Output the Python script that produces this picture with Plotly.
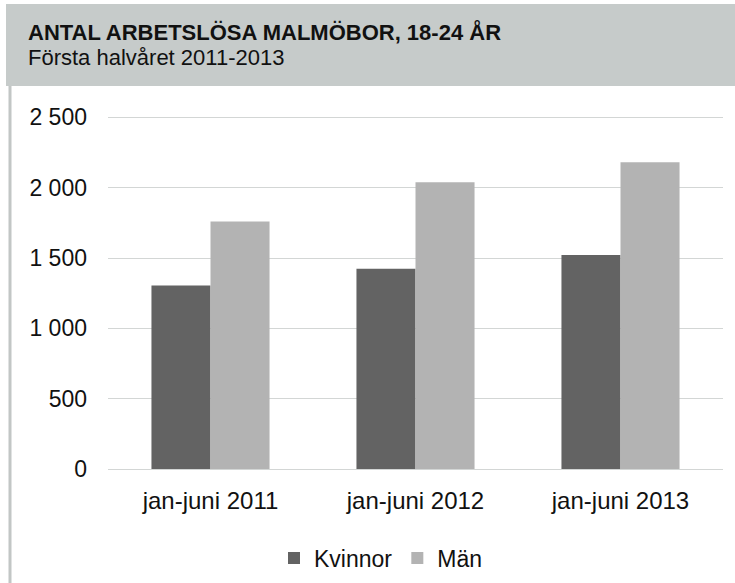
import plotly.graph_objects as go

categories = ["jan-juni 2011", "jan-juni 2012", "jan-juni 2013"]
kvinnor = [1305, 1424, 1522]
man = [1759, 2039, 2182]
y_tickvals = [0, 500, 1000, 1500, 2000, 2500]
y_ticktext = ["0", "500", "1 000", "1 500", "2 000", "2 500"]
title_line1 = "ANTAL ARBETSLÖSA MALMÖBOR, 18-24 ÅR"
title_line2 = "Första halvåret 2011-2013"

W, H = 735, 583
L, R, T, B = 108, 12, 116, 114
pw = W - L - R
ph = H - T - B

def px(x):
    return (x - L) / pw

def py(y):
    return (H - B - y) / ph

FONT = "Liberation Sans, Arial, sans-serif"

fig = go.Figure()
fig.add_trace(go.Bar(name="Kvinnor", x=categories, y=kvinnor, marker_color="#636363",
                     marker_line_width=0))
fig.add_trace(go.Bar(name="Män", x=categories, y=man, marker_color="#b3b3b3",
                     marker_line_width=0))

fig.update_layout(
    width=W, height=H,
    margin=dict(l=L, r=R, t=T, b=B, autoexpand=False),
    paper_bgcolor="white", plot_bgcolor="white",
    barmode="group", bargap=0.424, bargroupgap=0,
    font=dict(family=FONT, size=23, color="#111111"),
    showlegend=True,
    legend=dict(orientation="h", x=px(381), xanchor="center", y=py(558), yanchor="middle",
                font=dict(size=23), itemwidth=30, traceorder="normal"),
    xaxis=dict(showgrid=False, showline=True, linecolor="#d3d6d5", linewidth=1, automargin=False,
               ticks="", tickfont=dict(size=24), ticklabelstandoff=10, fixedrange=True),
    yaxis=dict(range=[0, 2510], tickvals=y_tickvals, ticktext=y_ticktext, automargin=False,
               showgrid=True, gridcolor="#d3d6d5", gridwidth=1, zeroline=False,
               showline=False, ticks="", tickfont=dict(size=23), ticklabelstandoff=20,
               fixedrange=True),
    shapes=[
        dict(type="rect", xref="paper", yref="paper", x0=px(6), x1=px(740), y0=py(86), y1=py(4),
             fillcolor="#c6cbca", line_width=0, layer="below"),
        dict(type="line", xref="paper", yref="paper", x0=px(10), x1=px(10), y0=py(86), y1=py(590),
             line=dict(color="#c2c6c5", width=3)),
    ],
    annotations=[
        dict(xref="paper", yref="paper", x=px(26), y=py(32), xanchor="left", yanchor="middle",
             text="<b>" + title_line1 + "</b>", showarrow=False, font=dict(size=22, color="#111111")),
        dict(xref="paper", yref="paper", x=px(26), y=py(58), xanchor="left", yanchor="middle",
             text=title_line2, showarrow=False, font=dict(size=22, color="#111111")),
    ],
)

fig.write_html("out.html", config={"displayModeBar": False},
               post_script="document.body.style.margin='0';")
